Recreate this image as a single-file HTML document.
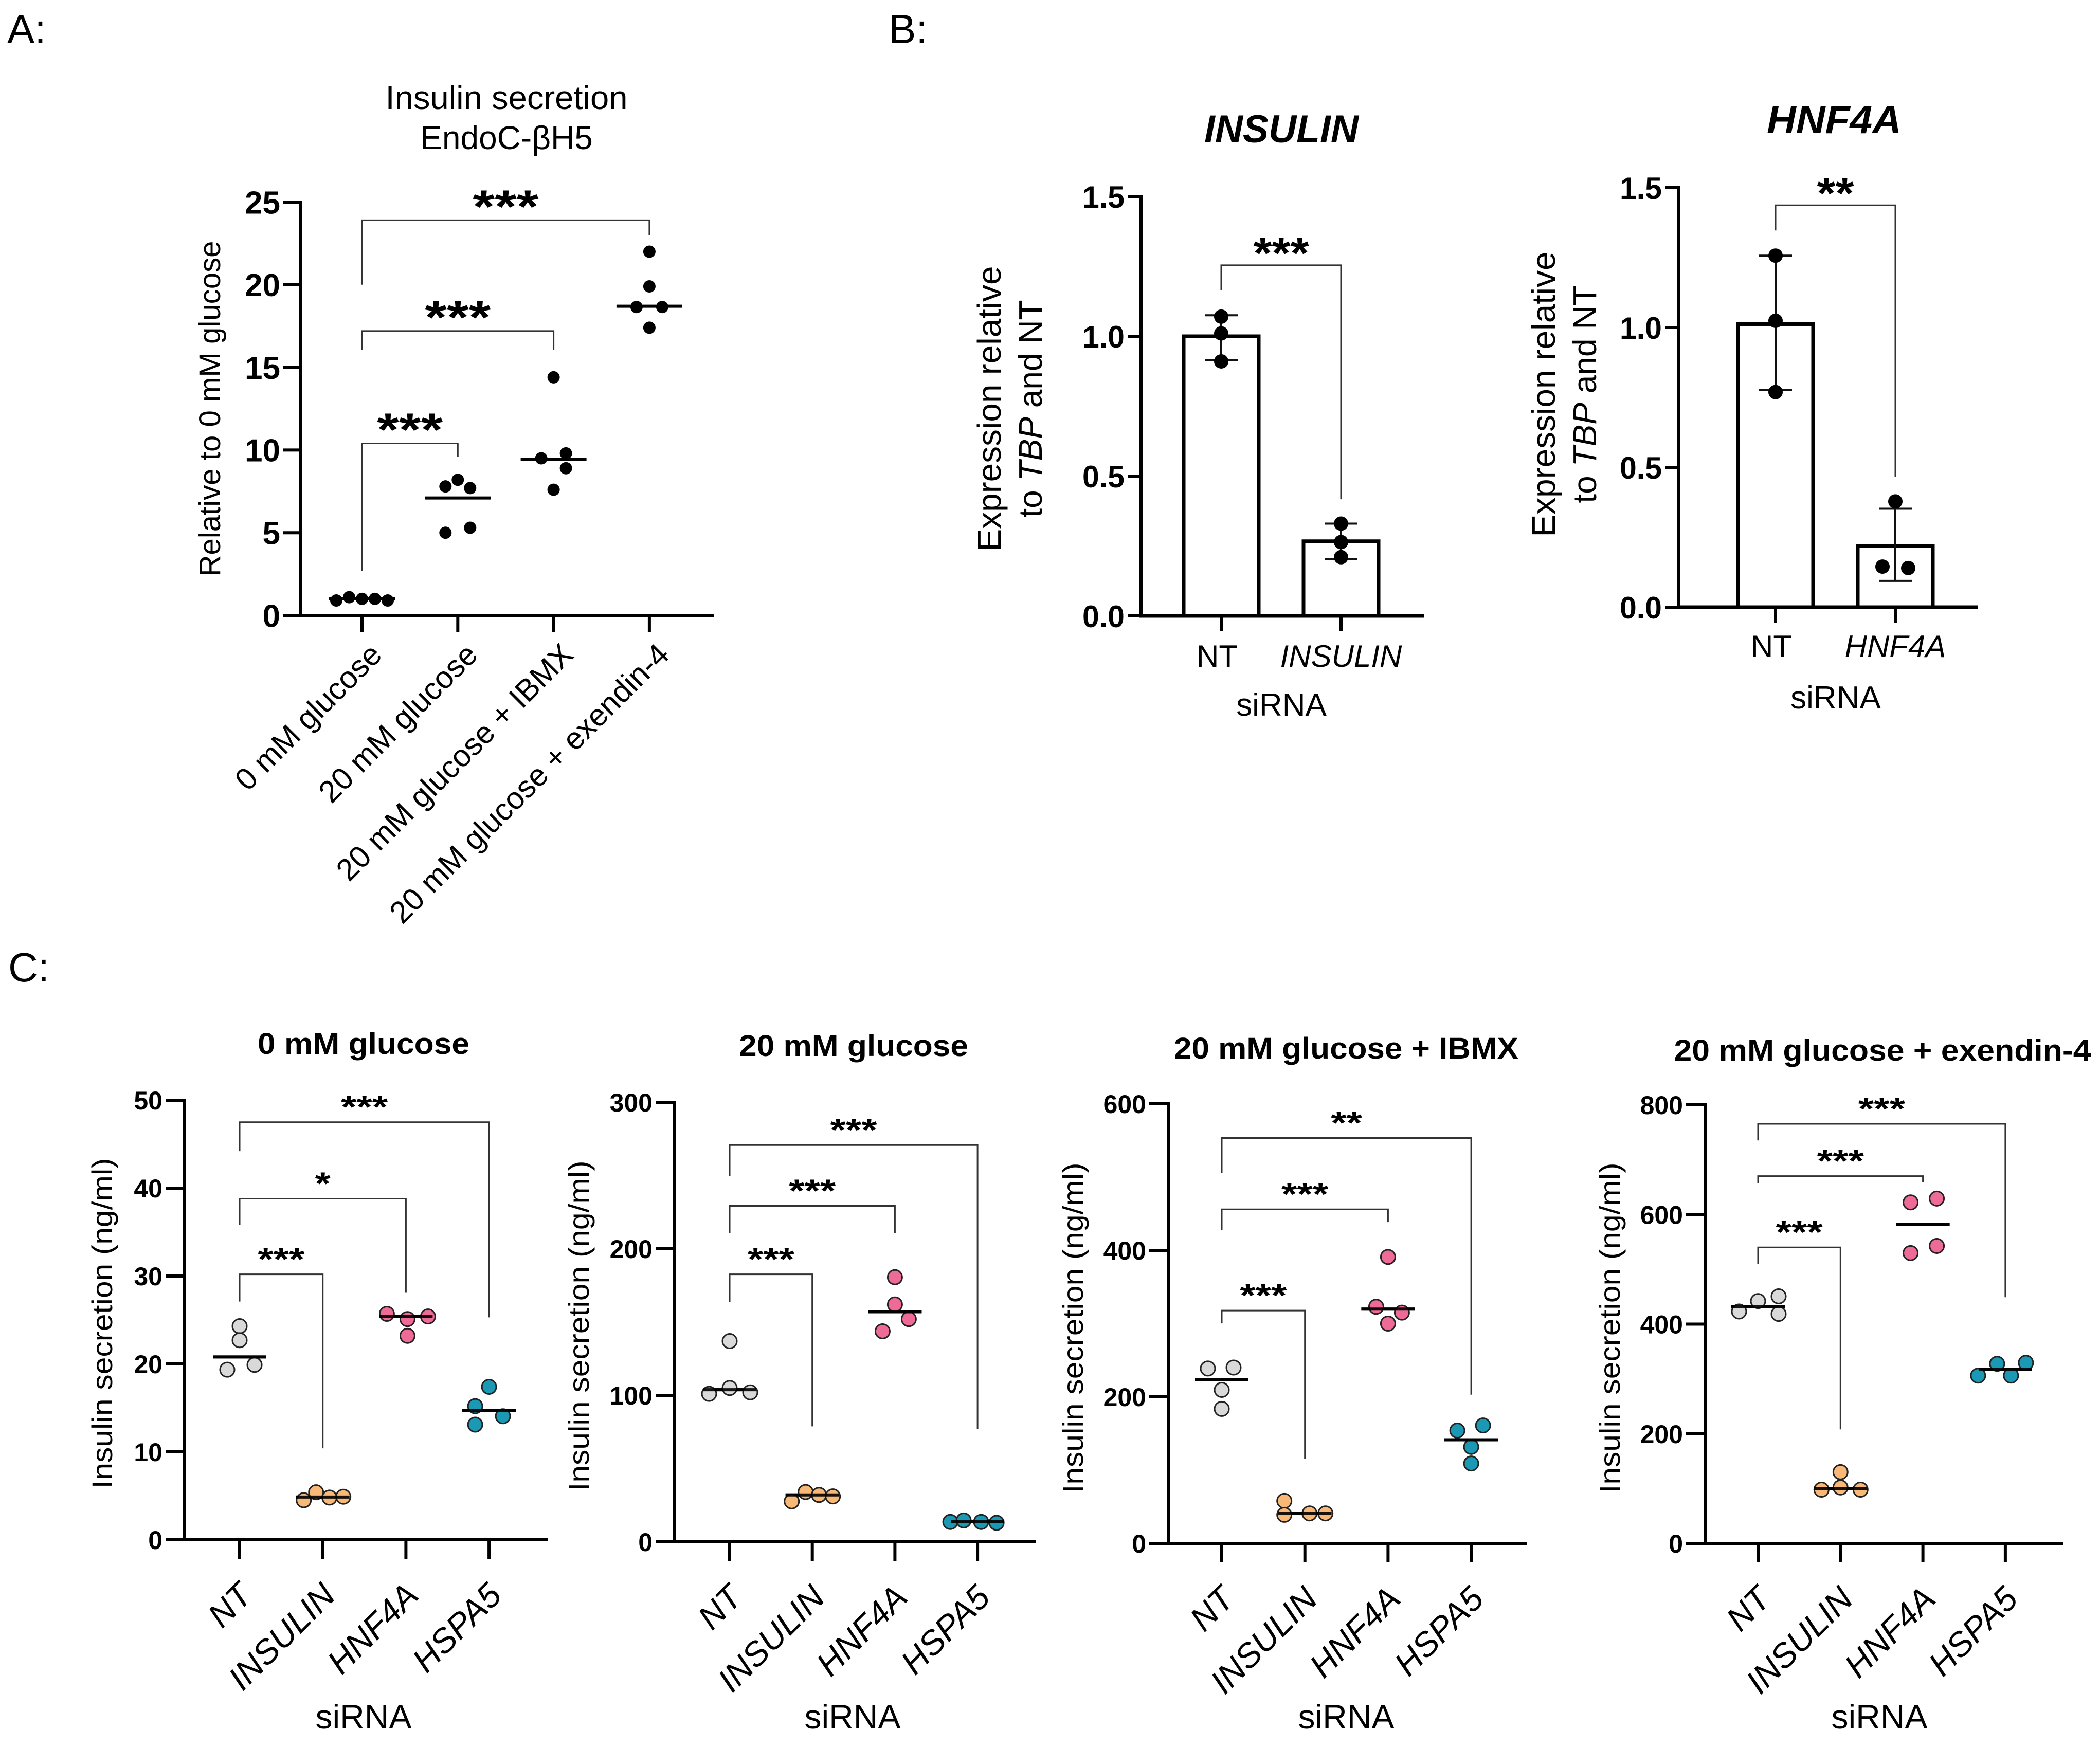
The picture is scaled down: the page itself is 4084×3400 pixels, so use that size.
<!DOCTYPE html>
<html><head><meta charset="utf-8"><style>
html,body{margin:0;padding:0;background:#fff;}
svg{display:block;font-family:"Liberation Sans",Arial,sans-serif;}
</style></head><body>
<svg id="fig" xmlns="http://www.w3.org/2000/svg" width="4084" height="3400" viewBox="0 0 4084 3400">
<rect x="0" y="0" width="4084" height="3400" fill="#fff"/>
<text x="14" y="84" font-size="80">A:</text>
<text x="1728" y="84" font-size="80">B:</text>
<text x="16" y="1909" font-size="80">C:</text>
</svg>
<script>
// ---------- DATA ----------
// Panel A
const A_categories = ["0 mM glucose","20 mM glucose","20 mM glucose + IBMX","20 mM glucose + exendin-4"];
const A_values = [[0.9,1.1,1.0,1.0,0.9],[8.2,7.8,7.7,5.0,5.3],[14.4,9.5,9.8,8.9,7.6],[22.0,19.9,18.65,18.65,17.4]];
const A_medians = [1.0,7.1,9.45,18.7];
const A_yticks = [0,5,10,15,20,25];
const A_brackets = [[0,3,23.9,20.0,23.0,"***"],[0,2,17.2,16.05,16.05,"***"],[0,1,10.4,2.7,9.6,"***"]];
// Panel B
const B_categories_ins = ["NT","INSULIN"];
const B_means_ins = [1.0,0.267];
const B_errHi_ins = [1.075,0.33];
const B_errLo_ins = [0.915,0.204];
const B_points_ins = [[1.07,1.01,0.91],[0.33,0.264,0.21]];
const B_bracket_ins = [0,1,1.254,1.165,0.417,"***"];
const B_categories_hnf = ["NT","HNF4A"];
const B_means_hnf = [1.012,0.219];
const B_errHi_hnf = [1.257,0.352];
const B_errLo_hnf = [0.777,0.094];
const B_points_hnf = [[1.257,1.024,0.769],[0.378,0.145,0.14]];
const B_bracket_hnf = [0,1,1.437,1.347,0.466,"**"];
const B_yticks = [0,0.5,1.0,1.5];
// Panel C
const C_categories = ["NT","INSULIN","HNF4A","HSPA5"];
const C1_values = [[24.3,22.7,19.35,19.9],[4.5,5.4,4.8,4.9],[25.7,25.1,25.4,23.2],[17.4,15.2,14.05,13.1]];
const C1_medians = [20.8,4.86,25.4,14.7];
const C1_yticks = [0,10,20,30,40,50];
const C1_brackets = [[0,3,47.5,44.2,25.3,"***"],[0,2,38.8,35.8,28.1,"*"],[0,1,30.2,27.1,10.4,"***"]];
const C2_values = [[137,101,105,102],[27.6,34,32,31],[180.6,162,152,143.7],[13.6,14.6,13.6,13.0]];
const C2_medians = [103.8,32,157,14];
const C2_yticks = [0,100,200,300];
const C2_brackets = [[0,3,270.8,249.7,76.9,"***"],[0,2,229.3,210.8,210.8,"***"],[0,1,182.6,163.8,78.8,"***"]];
const C3_values = [[238.7,240,209.5,183.6],[58,39,40.9,40.9],[391,323,315,300],[154,161,131.7,109]];
const C3_medians = [223.8,40.9,319.8,141.4];
const C3_yticks = [0,200,400,600];
const C3_brackets = [[0,3,553.3,506,203,"**"],[0,2,456,428,438.5,"***"],[0,1,317.8,300.3,115.5,"***"]];
const C4_values = [[423,442,450.7,418.6],[130,98,102,98],[622,629,529.6,542.6],[306,327.6,329.4,306]];
const C4_medians = [431.6,99.7,582.4,317];
const C4_yticks = [0,200,400,600,800];
const C4_brackets = [[0,3,765.3,735,449,"***"],[0,2,670,657,658.7,"***"],[0,1,540,509.6,208,"***"]];

// ---------- LAYOUT / STYLE ----------
const NS = "http://www.w3.org/2000/svg";
const svg = document.getElementById('fig');
function mk(tag, attrs, parent){
  const e = document.createElementNS(NS, tag);
  for (const k in attrs) e.setAttribute(k, attrs[k]);
  (parent || svg).appendChild(e);
  return e;
}
const C_colors = ["#d9d9d9","#f7b878","#ee6b98","#1b98b4"];

function drawScatter(p, cats, vals, meds, yticks, brs, jit){
  const g = mk('g', {});
  
  
  const ymax = yticks[yticks.length-1];
  const y = v => p.y0 - v / ymax * (p.y0 - p.ytop);
  const x = i => p.x0 + i * p.dx;
  // axes
  let e = mk('line', {x1:p.ax, y1:p.y0+3, x2:p.ax, y2:p.ytop-3, stroke:'#000', 'stroke-width':p.aw}, g);
  
  
  e = mk('line', {x1:p.ax-p.aw/2, y1:p.y0, x2:p.axEnd, y2:p.y0, stroke:'#000', 'stroke-width':p.aw}, g);
  
  
  yticks.forEach(t => {
    const tk = mk('line', {x1:p.ax-p.tl, y1:y(t), x2:p.ax, y2:y(t), stroke:'#000', 'stroke-width':p.aw}, g);
    
    
    const tl = mk('text', {x:p.ax-p.tl-6, y:y(t)+p.tf*0.36, 'font-size':p.tf, 'font-weight':'bold', 'text-anchor':'end', 'font-family':p.tfam}, g);
    tl.textContent = p.fmt ? p.fmt(t) : String(t);
    
    
  });
  cats.forEach((c, i) => {
    const tk = mk('line', {x1:x(i), y1:p.y0, x2:x(i), y2:p.y0+p.tl, stroke:'#000', 'stroke-width':p.aw}, g);
    
    
    const px = x(i) + p.lx, py = p.y0 + p.ly;
    const lab = mk('text', {x:px, y:py, 'font-size':p.lf, 'text-anchor':'end', 'font-style':p.italic?'italic':'normal', transform:'rotate(-45 '+px+' '+py+')'}, g);
    lab.textContent = c;
    
    
  });
  // brackets
  brs.forEach(b => {
    const xa = x(b[0]), xb = x(b[1]), yb = y(b[2]);
    const pl = mk('polyline', {points: xa+','+y(b[3])+' '+xa+','+yb+' '+xb+','+yb+' '+xb+','+y(b[4]), fill:'none', stroke:'#333', 'stroke-width':p.bw}, g);
    
    
    const n = b[5].length;
    const st = mk('text', {x:(xa+xb)/2, y:yb - p.so + p.sf*0.58, 'font-size':p.sf, 'font-weight':'bold', 'text-anchor':'middle', textLength:p.sw*n/3, lengthAdjust:'spacingAndGlyphs'}, g);
    st.textContent = b[5];
    
    
  });
  // medians
  meds.forEach((m, i) => {
    const ml = mk('line', {x1:x(i)-p.mw, y1:y(m), x2:x(i)+p.mw, y2:y(m), stroke:'#000', 'stroke-width':p.mt}, g);
    
    
  });
  // points
  vals.forEach((arr, i) => {
    arr.forEach((v, k) => {
      const c = mk('circle', {cx:x(i)+jit[i][k], cy:y(v), r:p.r, fill:p.colors?p.colors[i]:'#000', stroke:p.colors?'#222':'none', 'stroke-width':3}, g);
      
      
    });
  });
  // medians on top for C style
  if (p.colors) meds.forEach((m, i) => {
    const ml = mk('line', {x1:x(i)-p.mw, y1:y(m), x2:x(i)+p.mw, y2:y(m), stroke:'#000', 'stroke-width':p.mt, 'stroke-opacity':0.9}, g);
    
    
  });
  return g;
}

function drawBars(p, cats, means, hi, lo, pts, br, yticks){
  const g = mk('g', {});
  
  
  const ymax = yticks[yticks.length-1];
  const y = v => p.y0 - v / ymax * (p.y0 - p.ytop);
  const x = i => p.x0 + i * p.dx;
  means.forEach((m, i) => {
    const r = mk('rect', {x:x(i)-p.bwid/2, y:y(m), width:p.bwid, height:p.y0-y(m), fill:'#fff', stroke:'#000', 'stroke-width':7}, g);
    
    
  });
  let e = mk('line', {x1:p.ax, y1:p.y0+3, x2:p.ax, y2:p.ytop-3, stroke:'#000', 'stroke-width':6}, g);
  
  
  e = mk('line', {x1:p.ax-3, y1:p.y0, x2:p.axEnd, y2:p.y0, stroke:'#000', 'stroke-width':7}, g);
  
  
  yticks.forEach(t => {
    const tk = mk('line', {x1:p.ax-26, y1:y(t), x2:p.ax, y2:y(t), stroke:'#000', 'stroke-width':6}, g);
    
    
    const tl = mk('text', {x:p.ax-32, y:y(t)+22, 'font-size':60, 'font-weight':'bold', 'text-anchor':'end', textLength:82, lengthAdjust:'spacingAndGlyphs'}, g);
    tl.textContent = t.toFixed(1);
    
    
  });
  cats.forEach((c, i) => {
    const tk = mk('line', {x1:x(i), y1:p.y0, x2:x(i), y2:p.y0+30, stroke:'#000', 'stroke-width':6}, g);
    
    
    const lab = mk('text', {x:x(i) + (i===0?-8:0), y:p.lb, 'font-size':60, 'text-anchor':'middle', 'font-style':i===0?'normal':'italic'}, g);
    lab.textContent = c;
    
    
    const eb = mk('polyline', {points:(x(i)-32)+','+y(hi[i])+' '+(x(i)+32)+','+y(hi[i])+' '+x(i)+','+y(hi[i])+' '+x(i)+','+y(lo[i])+' '+(x(i)-32)+','+y(lo[i])+' '+(x(i)+32)+','+y(lo[i]), fill:'none', stroke:'#111', 'stroke-width':4}, g);
    
    
    pts[i].forEach((v, k) => {
      const off = p.jit[i][k];
      const c = mk('circle', {cx:x(i)+off, cy:y(v), r:14, fill:'#000'}, g);
      
      
    });
  });
  const xa = x(br[0]), xb = x(br[1]), yb = y(br[2]);
  const pl = mk('polyline', {points: xa+','+y(br[3])+' '+xa+','+yb+' '+xb+','+yb+' '+xb+','+y(br[4]), fill:'none', stroke:'#333', 'stroke-width':3}, g);
  
  
  const st = mk('text', {x:(xa+xb)/2, y:yb-44+50, 'font-size':86, 'font-weight':'bold', 'text-anchor':'middle', textLength:36*br[5].length, lengthAdjust:'spacingAndGlyphs'}, g);
  st.textContent = br[5];
  
  
  return g;
}

function txt(s, attrs, name){
  const t = mk('text', attrs);
  t.textContent = s;
  
  
  return t;
}

// ---------- PANEL A ----------
txt("Insulin secretion", {x:985, y:212, 'font-size':64, 'text-anchor':'middle', textLength:471, lengthAdjust:'spacingAndGlyphs'}, 'chart-a-title-line1');
txt("EndoC-βH5", {x:985, y:290, 'font-size':64, 'text-anchor':'middle'}, 'chart-a-title-line2');
txt("Relative to 0 mM glucose", {x:0, y:0, 'font-size':58, 'text-anchor':'middle', textLength:653, lengthAdjust:'spacingAndGlyphs', transform:'translate(428 795) rotate(-90)'}, 'chart-a-y-axis-title');
drawScatter({name:'chart-a', ax:584, axEnd:1388, y0:1197, ytop:393, x0:704, dx:186.3, aw:6, tl:33, tf:62, tfam:'Liberation Sans', lx:42, ly:80, lf:60, italic:false, bw:3, so:48, sf:90, sw:128, mw:64, mt:6, r:12},
  A_categories, A_values, A_medians, A_yticks, A_brackets,
  [[-50,-25,0,25,50],[0,-24,24,-24,24],[0,-24,24,24,0],[0,0,-25,25,0]]);

// ---------- PANEL B ----------
txt("INSULIN", {x:2492, y:277, 'font-size':76, 'font-weight':'bold', 'font-style':'italic', 'text-anchor':'middle', textLength:300, lengthAdjust:'spacingAndGlyphs'}, 'chart-b1-title');
txt("HNF4A", {x:3567, y:259, 'font-size':76, 'font-weight':'bold', 'font-style':'italic', 'text-anchor':'middle', textLength:262, lengthAdjust:'spacingAndGlyphs'}, 'chart-b2-title');
function bYTitle(cx, cy, name){
  const t1 = txt("Expression relative", {x:0, y:0, 'font-size':64, 'text-anchor':'middle', textLength:555, lengthAdjust:'spacingAndGlyphs', transform:'translate('+(cx-18)+' '+cy+') rotate(-90)'}, name+'-line1');
  const t2 = mk('text', {x:0, y:0, 'font-size':64, 'text-anchor':'middle', transform:'translate('+(cx+62)+' '+cy+') rotate(-90)'});
  
  
  t2.innerHTML = 'to <tspan font-style="italic">TBP</tspan> and NT';
}
bYTitle(1964, 795, 'chart-b1-y-axis-title');
bYTitle(3042, 767, 'chart-b2-y-axis-title');
drawBars({name:'chart-b1', ax:2219, axEnd:2769, y0:1198, ytop:382, x0:2375, dx:233, bwid:146, lb:1297, jit:[[0,0,0],[0,0,0]]},
  B_categories_ins, B_means_ins, B_errHi_ins, B_errLo_ins, B_points_ins, B_bracket_ins, B_yticks);
drawBars({name:'chart-b2', ax:3264, axEnd:3846, y0:1181, ytop:365, x0:3453, dx:233, bwid:146, lb:1278, jit:[[0,0,0],[0,-25,25]]},
  B_categories_hnf, B_means_hnf, B_errHi_hnf, B_errLo_hnf, B_points_hnf, B_bracket_hnf, B_yticks);
txt("siRNA", {x:2492, y:1392, 'font-size':62, 'text-anchor':'middle'}, 'chart-b1-x-axis-title');
txt("siRNA", {x:3570, y:1378, 'font-size':62, 'text-anchor':'middle'}, 'chart-b2-x-axis-title');

// ---------- PANEL C ----------
const cBase = {aw:6, tl:37, tf:50, tfam:'Liberation Sans Narrow, Liberation Sans', lx:28, ly:112, lf:66, italic:true, bw:3, so:44, sf:62, sw:91, mw:52, mt:6, r:14, colors:C_colors};
const cCharts = [
  {name:'chart-c1', title:"0 mM glucose", tw:412, tx:707, ty:2050, ytx:198, yty:2574, sx:707, ax:359, axEnd:1065, y0:2995, ytop:2140, x0:466, dx:161.7,
   vals:C1_values, meds:C1_medians, ticks:C1_yticks, brs:C1_brackets,
   jit:[[0,0,-24,29],[-37,-13,13,40],[-37,3,43,3],[0,-27,27,-27]]},
  {name:'chart-c2', title:"20 mM glucose", tw:446, tx:1660, ty:2054, ytx:1125, yty:2579, sx:1658, ax:1312, axEnd:2015, y0:2999, ytop:2144, x0:1419, dx:160.7,
   vals:C2_values, meds:C2_medians, ticks:C2_yticks, brs:C2_brackets,
   jit:[[0,-40,0,40],[-40,-13,13,40],[0,0,27,-24],[-53,-27,7,37]]},
  {name:'chart-c3', title:"20 mM glucose + IBMX", tw:670, tx:2618, ty:2059, ytx:2086, yty:2583, sx:2618, ax:2272, axEnd:2970, y0:3002, ytop:2147, x0:2376, dx:161.7,
   vals:C3_values, meds:C3_medians, ticks:C3_yticks, brs:C3_brackets,
   jit:[[-27,23,0,0],[-40,-40,9,40],[0,-23,27,0],[-27,23,0,0]]},
  {name:'chart-c4', title:"20 mM glucose + exendin-4", tw:811, tx:3661, ty:2063, ytx:3130, yty:2583, sx:3655, ax:3316, axEnd:4013, y0:3002, ytop:2149, x0:3419, dx:160.3,
   vals:C4_values, meds:C4_medians, ticks:C4_yticks, brs:C4_brackets,
   jit:[[-37,0,40,40],[0,-37,0,39],[-24,27,-24,27],[-53,-16,40,11]]}
];
cCharts.forEach(c => {
  txt(c.title, {x:c.tx, y:c.ty, 'font-size':58, 'font-weight':'bold', 'text-anchor':'middle', textLength:c.tw, lengthAdjust:'spacingAndGlyphs'}, c.name+'-title');
  txt("Insulin secretion (ng/ml)", {x:0, y:0, 'font-size':56, 'text-anchor':'middle', textLength:643, lengthAdjust:'spacingAndGlyphs', transform:'translate('+(c.ytx+20)+' '+c.yty+') rotate(-90)'}, c.name+'-y-axis-title');
  txt("siRNA", {x:c.sx, y:3362, 'font-size':66, 'text-anchor':'middle'}, c.name+'-x-axis-title');
  const p = Object.assign({}, cBase, {name:c.name, ax:c.ax, axEnd:c.axEnd, y0:c.y0, ytop:c.ytop, x0:c.x0, dx:c.dx});
  drawScatter(p, C_categories, c.vals, c.meds, c.ticks, c.brs, c.jit);
});
</script>
</body></html>
